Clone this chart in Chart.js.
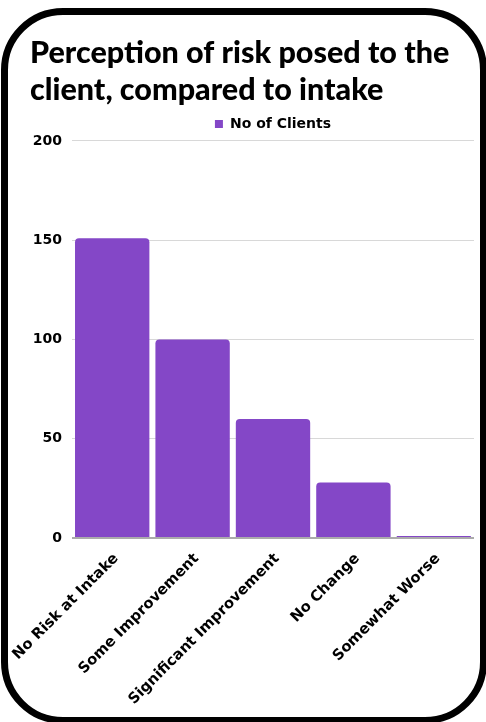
<!DOCTYPE html>
<html>
<head>
<meta charset="utf-8">
<script src="https://cdn.jsdelivr.net/npm/chart.js@4/dist/chart.umd.min.js"></script>
<style>
  html, body { margin: 0; padding: 0; background: #ffffff; overflow: hidden; }
  #wrap { position: relative; width: 486px; height: 722px; overflow: hidden; }
  #chart { position: absolute; left: 0; top: 0; }
  #frame {
    position: absolute; left: 1px; top: 8px; width: 486px; height: 716px;
    box-sizing: border-box; border: 7px solid #000; border-radius: 62px;
    pointer-events: none;
  }
</style>
</head>
<body>
<div id="wrap">
  <canvas id="chart" width="486" height="722"></canvas>
  <div id="frame"></div>
</div>
<script>
// Outcome categories on the x axis
const categories = [
  'No Risk at Intake',
  'Some Improvement',
  'Significant Improvement',
  'No Change',
  'Somewhat Worse'
];
// Number of clients in each category
const clientCounts = [151, 100, 60, 28, 1];
// Y axis range and step
const yTicks = [0, 50, 100, 150, 200];

const titleLines = ['Perception of risk posed to the', 'client, compared to intake'];
const seriesName = 'No of Clients';

const TITLE_FONT = "Lato, 'Open Sans', sans-serif";
const FONT = "'DejaVu Sans', sans-serif";
const PURPLE = '#8447c7';

new Chart(document.getElementById('chart'), {
  type: 'bar',
  data: {
    labels: categories,
    datasets: [{
      label: seriesName,
      data: clientCounts,
      backgroundColor: PURPLE,
      borderWidth: 0,
      borderRadius: 4,
      borderSkipped: 'start',
      barPercentage: 0.925,
      categoryPercentage: 1.0
    }]
  },
  options: {
    responsive: false,
    animation: false,
    layout: { padding: { left: 30, right: 12, top: 20, bottom: 14 } },
    plugins: {
      title: {
        display: true,
        text: titleLines,
        align: 'start',
        color: '#000000',
        font: { family: TITLE_FONT, size: 30.5, weight: '900', lineHeight: 1.213 },
        padding: { top: 15, bottom: 0 }
      },
      legend: {
        display: true,
        fullSize: false,
        position: 'top',
        align: 'center',
        labels: {
          color: '#000000',
          boxWidth: 8,
          boxHeight: 8,
          padding: 8,
          font: { family: FONT, size: 14, weight: '700' }
        }
      },
      tooltip: { enabled: false }
    },
    scales: {
      y: {
        min: yTicks[0],
        max: yTicks[yTicks.length - 1],
        afterBuildTicks: (scale) => { scale.ticks = yTicks.map(v => ({ value: v })); },
        afterFit: (scale) => { scale.width = 42; },
        border: { display: false },
        grid: {
          drawTicks: false,
          lineWidth: (ctx) => ctx.tick && ctx.tick.value === 0 ? 2 : 1,
          color: (ctx) => ctx.tick && ctx.tick.value === 0 ? '#ababab' : '#d8d8d8'
        },
        ticks: {
          color: '#000000',
          padding: 10,
          font: { family: FONT, size: 14, weight: '700' }
        }
      },
      x: {
        afterFit: (scale) => { scale.height = 170; },
        border: { display: false },
        grid: { display: false },
        ticks: {
          color: '#000000',
          minRotation: 45,
          maxRotation: 45,
          padding: 4,
          labelOffset: 4,
          font: { family: FONT, size: 14.8, weight: '700' }
        }
      }
    }
  }
});
</script>
</body>
</html>
